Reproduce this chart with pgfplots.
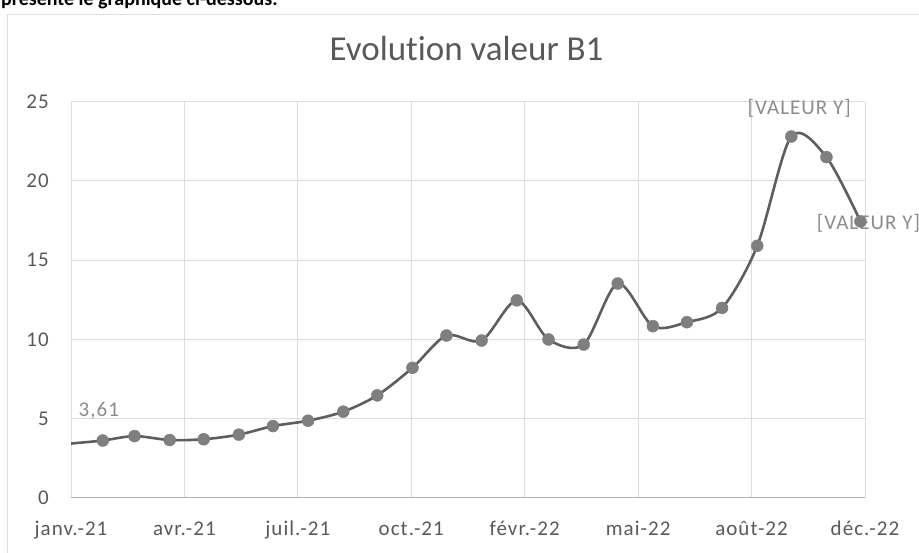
\documentclass[border=0pt]{standalone}
\usepackage{pgfplots}
\usepackage{pgfplotstable}
\pgfplotsset{compat=1.18}
\usepackage{fontspec}
\setmainfont{Carlito}[Ligatures=NoCommon]
\newfontfamily\lsp{Carlito}[LetterSpace=5.0, Ligatures=NoCommon]
\definecolor{txt}{HTML}{595959}
\definecolor{lbl}{HTML}{8C8C8C}
\definecolor{gridc}{HTML}{DDDDDD}
\definecolor{ln}{HTML}{5E5E5E}
\definecolor{mk}{HTML}{7F7F7F}
\pgfplotstableread{
d v
0 3.40
31 3.61
59 3.89
90 3.64
120 3.69
151 3.98
181 4.52
212 4.86
243 5.43
273 6.46
304 8.20
334 10.24
365 9.92
396 12.46
424 9.99
455 9.67
485 13.52
516 10.83
546 11.08
577 11.98
608 15.90
638 22.80
669 21.50
699 17.44
}\datatable
\begin{document}
\begin{tikzpicture}[x=1pt,y=1pt]
\useasboundingbox (0,0) rectangle (919,553);
\begin{scope}
\clip (0,0) rectangle (919,553);
\node[anchor=base west, inner sep=0pt, font=\fontsize{20pt}{24pt}\selectfont\bfseries] at (1,547) {présente le graphique ci-dessous.};
\end{scope}
\draw[gridc, line width=1pt] (7,-5) -- (7,538) -- (925,538);
\node[anchor=base, inner sep=0pt, text=txt, font=\fontsize{35pt}{42pt}\selectfont] at (466.5,492.3) {Evolution valeur B1};
\begin{axis}[
  at={(71pt,55.3pt)}, anchor=south west,
  scale only axis, width=794pt, height=396pt,
  xmin=3, xmax=703, ymin=0, ymax=25,
  xtick={3,103,...,703},
  xticklabels={janv.-21, avr.-21, juil.-21, oct.-21, févr.-22, mai-22, août-22, déc.-22},
  ytick={0,5,...,25},
  /pgf/number format/assume math mode=true,
  grid=major, major grid style={gridc, line width=0.9pt},
  axis line style={draw=none},
  major tick length=0pt,
  xticklabel style={anchor=base, inner sep=0pt, yshift=-38pt, text=txt, font=\fontsize{21pt}{25pt}\lsp\selectfont},
  yticklabel style={anchor=east, inner sep=0pt, xshift=-22pt, text=txt, font=\fontsize{21pt}{25pt}\lsp\selectfont},
  clip mode=individual,
]
\draw[color=black!30, line width=1pt] (rel axis cs:0,0) -- (rel axis cs:1,0);
\addplot[ln, line width=2.6pt, smooth, no markers] table[x=d, y=v] {\datatable};
\addplot[draw=none, no markers, nodes near coords, point meta=explicit symbolic,
  every node near coord/.style={anchor=base, inner sep=0pt, xshift=-4pt, yshift=23.7pt, text=lbl, font=\fontsize{21pt}{25pt}\lsp\selectfont}]
  coordinates {(31,3.61) [3,61]};
\addplot[draw=none, no markers, nodes near coords, point meta=explicit symbolic,
  every node near coord/.style={anchor=base, inner sep=0pt, xshift=8pt, yshift=22.4pt, text=lbl, font=\fontsize{21pt}{25pt}\lsp\selectfont}]
  coordinates {(638,22.80) [{[VALEUR Y]}]};
\addplot[draw=none, no markers, nodes near coords, point meta=explicit symbolic,
  every node near coord/.style={anchor=base, inner sep=0pt, xshift=8pt, yshift=-7.6pt, text=lbl, font=\fontsize{21pt}{25pt}\lsp\selectfont}]
  coordinates {(699,17.44) [{[VALEUR Y]}]};
\addplot[only marks, mark=*, mark size=6pt, mark options={fill=mk, draw=mk, line width=0.4pt}, restrict x to domain=20:710] table[x=d, y=v] {\datatable};
\end{axis}
\end{tikzpicture}
\end{document}
